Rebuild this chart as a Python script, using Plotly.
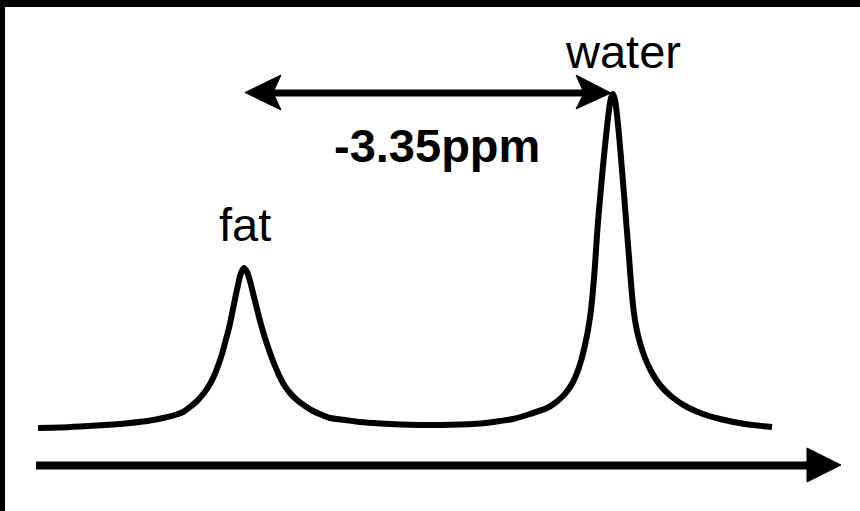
import plotly.graph_objects as go

# Spectrum trace (pixel-like units: x to the right, y downward)
spec_x = [38, 60, 80, 105, 130, 150, 163, 175, 183, 190, 197, 204, 210, 214, 218, 222, 225,
          229, 232, 235, 238, 241, 244, 247, 250, 253, 256, 259, 262, 265, 269, 273, 278, 283,
          290, 297, 305, 313, 322, 330, 345, 360, 380, 400, 420, 440, 460, 480, 500, 513, 530,
          547, 555, 562, 568, 573, 577, 581, 585, 588, 591, 593, 595, 597, 599, 601, 603, 605,
          607, 609, 611, 613, 615, 617, 619, 621, 623, 625, 627, 629, 631, 633, 636, 640, 645,
          651, 660, 672, 687, 703, 720, 745, 772]
spec_y = [428, 427.5, 426.5, 425, 423, 420.5, 418, 415, 412, 407, 401, 393, 384, 376, 366, 354, 343,
          328, 314, 299, 285, 273, 268, 272, 281, 293, 305, 317, 328, 338, 350, 361, 373, 383,
          393, 400, 406, 411, 415, 418, 420, 422, 423.5, 424.5, 425, 425, 424.5, 423.5, 421, 419, 414,
          408, 403, 397, 390, 382, 373, 361, 345, 330, 310, 290, 265, 235, 210, 188, 166, 146,
          127, 110, 98, 94, 100, 115, 135, 158, 182, 207, 232, 257, 283, 305, 326, 343, 358,
          371, 385, 397, 407, 414, 419, 424, 427]

labels = ["water", "fat", "-3.35ppm"]
label_x = [623, 245, 437]
label_y = [51, 224, 145]

FONT = "Liberation Sans, Arial, sans-serif"

fig = go.Figure()
fig.add_trace(go.Scatter(x=spec_x, y=spec_y, mode="lines",
                         line=dict(color="black", width=6, shape="spline", smoothing=0.8),
                         hoverinfo="skip", showlegend=False))

shapes = [
    # black frame (top band and left band)
    dict(type="rect", xref="x", yref="y", x0=0, x1=860, y0=0, y1=7,
         fillcolor="black", line=dict(width=0), layer="above"),
    dict(type="rect", xref="x", yref="y", x0=0, x1=5, y0=0, y1=511,
         fillcolor="black", line=dict(width=0), layer="above"),
    # double arrow shaft
    dict(type="line", xref="x", yref="y", x0=272, x1=585, y0=93, y1=93,
         line=dict(color="black", width=7)),
    dict(type="path", xref="x", yref="y", path="M 245,92.5 L 281,75 L 273,92.5 L 281,110 Z",
         fillcolor="black", line=dict(color="black", width=1)),
    dict(type="path", xref="x", yref="y", path="M 611,93 L 576,75 L 584,93 L 576,109 Z",
         fillcolor="black", line=dict(color="black", width=1)),
    # frequency axis arrow
    dict(type="line", xref="x", yref="y", x0=36, x1=810, y0=465.5, y1=465.5,
         line=dict(color="black", width=8)),
    dict(type="path", xref="x", yref="y", path="M 841,465 L 807,448 L 807,482 Z",
         fillcolor="black", line=dict(color="black", width=1)),
]

annotations = []
for t, x, y in zip(labels, label_x, label_y):
    bold = t.startswith("-")
    annotations.append(dict(
        x=x, y=y, xref="x", yref="y", text=("<b>%s</b>" % t) if bold else t,
        showarrow=False, xanchor="center", yanchor="middle",
        font=dict(family=FONT, size=47, color="black")))

fig.update_layout(
    width=860, height=511,
    margin=dict(l=0, r=0, t=0, b=0),
    paper_bgcolor="white", plot_bgcolor="white",
    xaxis=dict(range=[0, 860], visible=False, fixedrange=True),
    yaxis=dict(range=[511, 0], visible=False, fixedrange=True),
    shapes=shapes, annotations=annotations,
)

fig.write_html("out.html", config={"displayModeBar": False},
               post_script="document.body.style.margin='0';document.body.style.overflow='hidden';")
